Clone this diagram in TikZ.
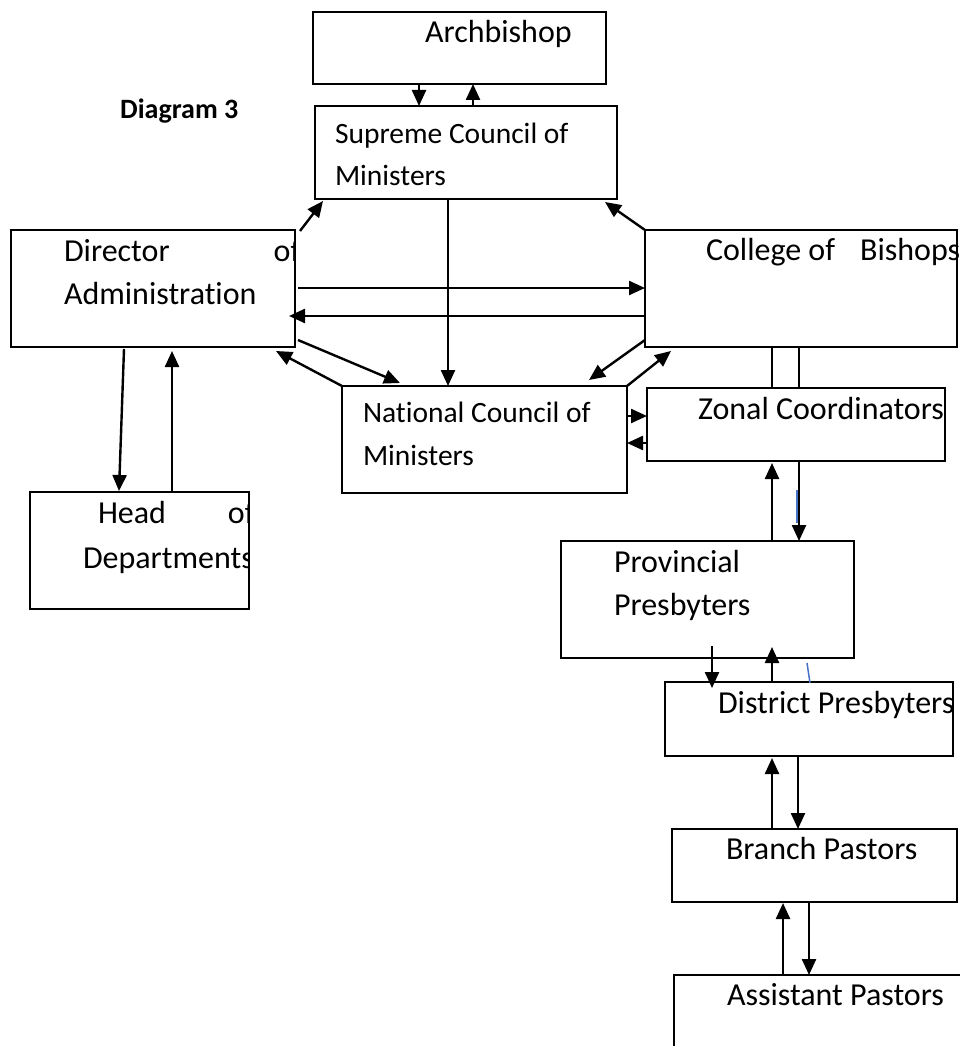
\documentclass[tikz,border=0pt]{standalone}
\usepackage{fontspec}
\setmainfont{Carlito}[Ligatures=NoCommon]
\usetikzlibrary{arrows.meta,calc}

\begin{document}
\begin{tikzpicture}[x=1pt,y=-1pt,
  box/.style={draw, line width=2.4pt, rectangle, inner sep=0pt, outer sep=0pt, anchor=north west},
  lbl/.style={inner sep=0pt, outer sep=0pt, anchor=base west, font=\fontsize{32pt}{42pt}\selectfont},
  lblsm/.style={inner sep=0pt, outer sep=0pt, anchor=base west, font=\fontsize{29.5pt}{40pt}\selectfont},
  arr/.style={line width=2.4pt, -{Triangle[length=16pt,width=14pt]}},
  thin/.style={line width=1.5pt},
  stray/.style={line width=1.5pt, draw={rgb,255:red,68;green,114;blue,196}}]

% page frame
\clip (0,0) rectangle (960,1046);
\fill[white] (0,0) rectangle (960,1046);

% boxes
\node[box, minimum width=293pt, minimum height=72pt]  (arch) at (313,12)  {};
\node[box, minimum width=302pt, minimum height=93pt]  (sup)  at (315,106) {};
\node[box, minimum width=284pt, minimum height=117pt] (dir)  at (11,230)  {};
\node[box, minimum width=312pt, minimum height=117pt] (col)  at (645,230) {};
\node[box, minimum width=285pt, minimum height=107pt] (nat)  at (342,386) {};
\node[box, minimum width=298pt, minimum height=73pt]  (zon)  at (647,388) {};
\node[box, minimum width=219pt, minimum height=117pt] (head) at (30,492)  {};
\node[box, minimum width=293pt, minimum height=117pt] (prov) at (561,541) {};
\node[box, minimum width=288pt, minimum height=74pt]  (dist) at (665,682) {};
\node[box, minimum width=285pt, minimum height=73pt]  (bran) at (672,829) {};
\node[box, minimum width=310pt, minimum height=110pt] (asst) at (674,975) {};

% title
\node[inner sep=0pt, anchor=base west, font=\fontsize{28pt}{32pt}\selectfont\bfseries] (title) at (120,118) {Diagram 3};

% labels
\node[lbl]   (tArch)  at (425,43)  {Archbishop};
\node[lblsm] (tSup1)  at (335,143) {Supreme Council of};
\node[lblsm] (tSup2)  at (335,185) {Ministers};
\begin{scope}
  \clip (dir.north west) rectangle (dir.south east);
  \node[lbl] (tDir1) at (64,261) {Director\hspace{104pt}of};
  \node[lbl] (tDir2) at (64,304) {Administration};
\end{scope}
\node[lbl]   (tCol)   at (706,260) {College of\hspace{25pt}Bishops};
\node[lblsm] (tNat1)  at (363,422) {National Council of};
\node[lblsm] (tNat2)  at (363,465) {Ministers};
\node[lbl]   (tZon)   at (698,419) {Zonal Coordinators};
\begin{scope}
  \clip (head.north west) rectangle (head.south east);
  \node[lbl] (tHead1) at (98,523) {Head\hspace{62pt}of};
  \node[lbl] (tHead2) at (83,568) {Departments};
\end{scope}
\node[lbl]   (tProv1) at (614,572) {Provincial};
\node[lbl]   (tProv2) at (614,615) {Presbyters};
\begin{scope}
  \clip (dist.north west) rectangle (dist.south east);
  \node[lbl] (tDist) at (718,713) {District Presbyters};
\end{scope}
\node[lbl]   (tBran)  at (726,859) {Branch Pastors};
\node[lbl]   (tAsst)  at (727,1005) {Assistant Pastors};

% Archbishop <-> Supreme Council
\draw[arr] (419,0 |- arch.south) -- (419,0 |- sup.north);
\draw[arr] (473,0 |- sup.north) -- (473,0 |- arch.south);

% links up to the Supreme Council
\draw[arr] ($(dir.north east)+(5,1)$) -- ($(sup.south west)+(8,2)$);
\draw[arr] (col.north west) -- ($(sup.south east)+(-12,3)$);
\draw[arr] (448,0 |- sup.south) -- (448,0 |- nat.north);

% Director <-> College of Bishops
\draw[arr] ($(dir.east |- 0,288)+(3,0)$) -- (col.west |- 0,288);
\draw[arr] (col.west |- 0,316) -- ($(dir.east |- 0,316)+(-6,0)$);

% Director <-> National Council
\draw[arr] ($(dir.south east)+(3,-7)$) -- ($(nat.north west)+(58,-3)$);
\draw[arr] (nat.north west) -- ($(dir.south east)+(-19,4)$);

% College of Bishops <-> National Council
\draw[arr] ($(col.south west)+(0,-7)$) -- ($(nat.north east)+(-38,-6)$);
\draw[arr] (nat.north east) -- ($(col.south west)+(26,4)$);

% National Council <-> Zonal Coordinators
\draw[arr] (nat.east |- 0,416) -- (zon.west |- 0,416);
\draw[arr] (zon.west |- 0,443) -- (nat.east |- 0,443);

% College of Bishops -- Zonal Coordinators
\draw[thin] (772,0 |- col.south) -- (772,0 |- zon.north);
\draw[thin] (799,0 |- col.south) -- (799,0 |- zon.north);

% Zonal <-> Provincial
\draw[arr] (772,0 |- prov.north) -- ($(772,0 |- zon.south)+(0,2)$);
\draw[arr] (799,0 |- zon.south) -- (799,0 |- prov.north);

% Provincial <-> District
\draw[arr] ($(712,0 |- prov.south)+(0,-12)$) -- ($(712,0 |- dist.north)+(0,6)$);
\draw[arr] (772,0 |- dist.north) -- ($(772,0 |- prov.south)+(0,-11)$);

% District <-> Branch
\draw[arr] (772,0 |- bran.north) -- ($(772,0 |- dist.south)+(0,2)$);
\draw[arr] (798,0 |- dist.south) -- (798,0 |- bran.north);

% Branch <-> Assistant
\draw[arr] (783,0 |- asst.north) -- ($(783,0 |- bran.south)+(0,1)$);
\draw[arr] (809,0 |- bran.south) -- (809,0 |- asst.north);

% Director <-> Heads of Departments
\draw[arr] ($(124,0 |- dir.south)+(0,2)$) -- ($(119,0 |- head.north)+(0,-1)$);
\draw[arr] (172,0 |- head.north) -- ($(172,0 |- dir.south)+(0,4)$);

% stray blue strokes
\draw[stray] (797,490) -- (797,523);
\draw[stray] (807,663) -- (810,683);
\end{tikzpicture}
\end{document}
